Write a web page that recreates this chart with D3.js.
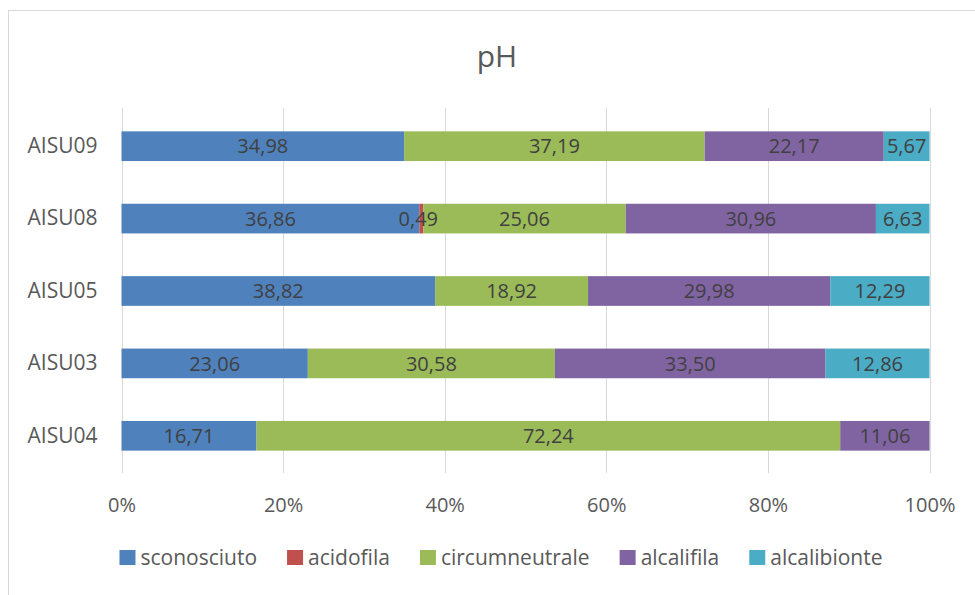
<!DOCTYPE html>
<html>
<head>
<meta charset="utf-8">
<script src="https://cdn.jsdelivr.net/npm/d3@7"></script>
<style>
  html, body { margin: 0; padding: 0; background: #fff; }
  svg { display: block; font-family: "Open Sans", sans-serif; }
</style>
</head>
<body>
<svg id="chart" width="975" height="595"></svg>
<script>
// ---- data ----
const categories = ["AISU09", "AISU08", "AISU05", "AISU03", "AISU04"];
const seriesNames = ["sconosciuto", "acidofila", "circumneutrale", "alcalifila", "alcalibionte"];
const sconosciuto    = [34.98, 36.86, 38.82, 23.06, 16.71];
const acidofila      = [0,     0.49,  0,     0,     0];
const circumneutrale = [37.19, 25.06, 18.92, 30.58, 72.24];
const alcalifila     = [22.17, 30.96, 29.98, 33.50, 11.06];
const alcalibionte   = [5.67,  6.63,  12.29, 12.86, 0];
const xTicks = [0, 0.2, 0.4, 0.6, 0.8, 1.0];
const seriesColors = ["#4F81BD", "#C0504D", "#9BBB59", "#8064A2", "#4BACC6"];
const title = "pH";

const seriesValues = [sconosciuto, acidofila, circumneutrale, alcalifila, alcalibionte];
const rows = categories.map((c, i) => {
  const r = { cat: c };
  seriesNames.forEach((s, j) => r[s] = seriesValues[j][i]);
  return r;
});

const svg = d3.select("#chart");

// chart border (cropped frame)
svg.append("rect").attr("x", 8.5).attr("y", 10.5).attr("width", 1000).attr("height", 700)
  .attr("fill", "none").attr("stroke", "#d9d9d9").attr("stroke-width", 1);

// title
svg.append("text").attr("x", 497).attr("y", 67).attr("text-anchor", "middle")
  .attr("font-size", 30).attr("fill", "#595959").text(title);

const x = d3.scaleLinear().domain([0, 1]).range([121.5, 929.5]);
const y = d3.scaleBand().domain(categories).range([110, 472]).paddingInner(0.59).paddingOuter(0.295);

// gridlines
svg.append("g").selectAll("line").data(xTicks).join("line")
  .attr("x1", d => Math.round(x(d)) + 0.5).attr("x2", d => Math.round(x(d)) + 0.5)
  .attr("y1", 108).attr("y2", 473)
  .attr("stroke", "#d9d9d9").attr("stroke-width", 1);

// x axis labels
const xAxis = d3.axisBottom(x).tickValues(xTicks).tickFormat(d3.format(".0%")).tickSize(0).tickPadding(0);
const gx = svg.append("g").attr("transform", "translate(0,512)").call(xAxis);
gx.select(".domain").remove();
gx.selectAll("text").attr("font-size", 20).attr("fill", "#595959")
  .attr("font-family", "Open Sans, sans-serif").attr("dy", 0);

// y axis labels
const yAxis = d3.axisLeft(y).tickSize(0).tickPadding(24);
const gy = svg.append("g").attr("transform", "translate(121.5,0)").call(yAxis);
gy.select(".domain").remove();
gy.selectAll("text").attr("font-size", 21).attr("fill", "#595959")
  .attr("font-family", "Open Sans, sans-serif");

// stacks
const stack = d3.stack().keys(seriesNames);
const stacked = stack(rows);
const pct = v => v / 100;

const layers = svg.append("g").selectAll("g").data(stacked).join("g")
  .attr("fill", (d, i) => seriesColors[i]);

layers.selectAll("rect").data(d => d).join("rect")
  .attr("x", d => x(pct(d[0])))
  .attr("width", d => x(pct(d[1])) - x(pct(d[0])))
  .attr("y", d => y(d.data.cat))
  .attr("height", y.bandwidth());

const fmt = v => d3.format(".2f")(v).replace(".", ",");
const labels = svg.append("g");
stacked.forEach((s, i) => {
  s.forEach(d => {
    const v = d[1] - d[0];
    if (v <= 0) return;
    labels.append("text")
      .attr("x", (x(pct(d[0])) + x(pct(d[1]))) / 2 - (v < 1 ? 3 : 0))
      .attr("y", y(d.data.cat) + y.bandwidth() / 2)
      .attr("dy", "0.36em")
      .attr("text-anchor", "middle")
      .attr("font-size", 20)
      .attr("fill", "#404040")
      .text(fmt(v));
  });
});

// legend
const legend = svg.append("g");
const items = legend.selectAll("g").data(seriesNames).join("g");
items.append("rect").attr("width", 16).attr("height", 15).attr("y", -8)
  .attr("fill", (d, i) => seriesColors[i]);
items.append("text").attr("x", 21).attr("dy", "0.35em").attr("font-size", 21)
  .attr("fill", "#595959").text(d => d);
let widths = [];
items.each(function() { widths.push(21 + d3.select(this).select("text").node().getComputedTextLength()); });
const gap = 30;
const total = d3.sum(widths) + gap * (widths.length - 1);
let cx = 501 - total / 2;
items.each(function(d, i) {
  d3.select(this).attr("transform", `translate(${cx},558)`);
  cx += widths[i] + gap;
});
</script>
</body>
</html>
